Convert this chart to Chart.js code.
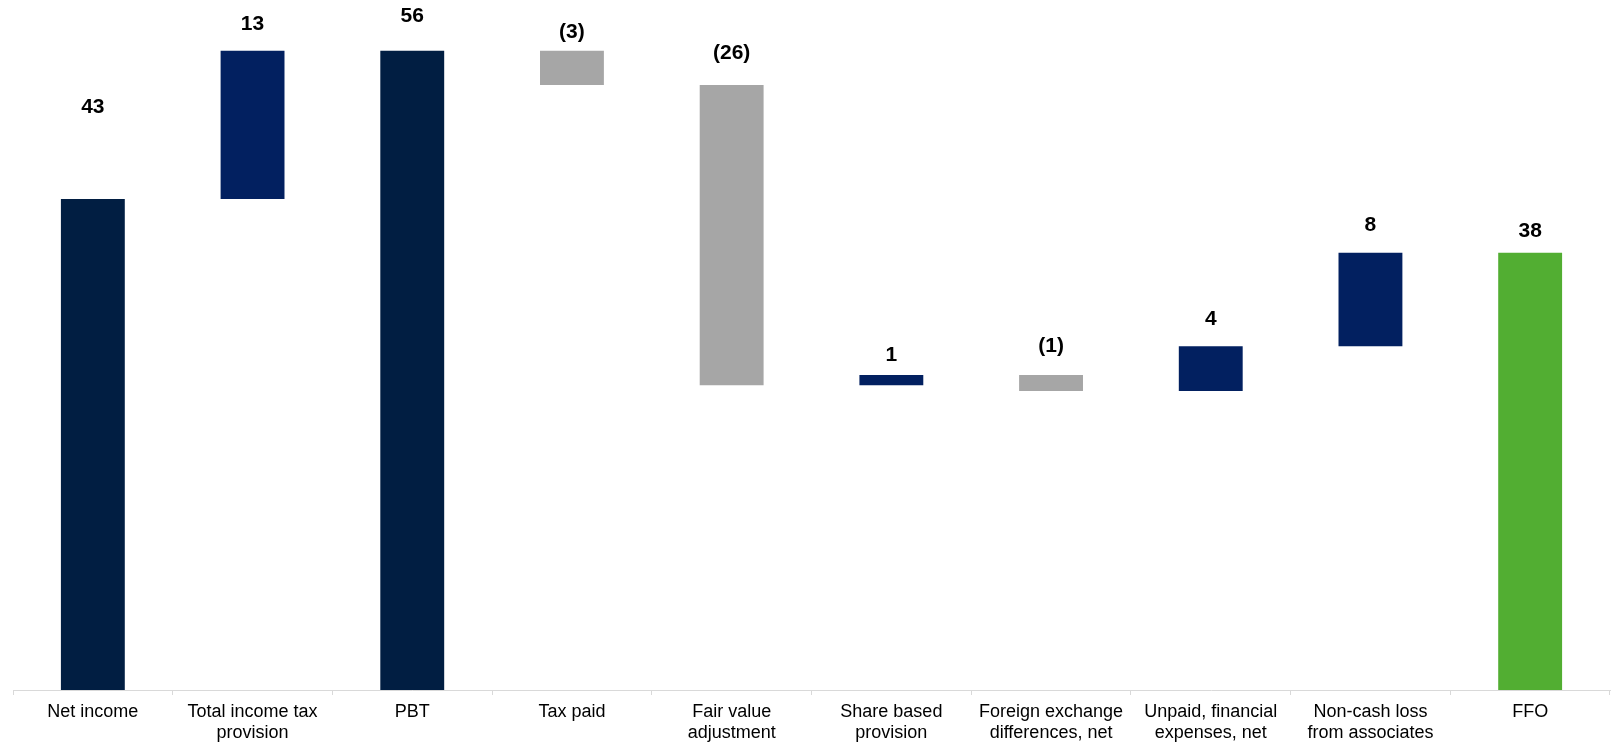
<!DOCTYPE html>
<html>
<head>
<meta charset="utf-8">
<script src="https://cdn.jsdelivr.net/npm/chart.js@4"></script>
<style>
  html, body { margin: 0; padding: 0; background: #ffffff; }
  #wrap { width: 1614px; height: 747px; position: relative; }
</style>
</head>
<body>
<div id="wrap"><canvas id="bridge"></canvas></div>
<script>
// Net income to FFO bridge (values in millions)
const categories = [
  ['Net income'],
  ['Total income tax', 'provision'],
  ['PBT'],
  ['Tax paid'],
  ['Fair value', 'adjustment'],
  ['Share based', 'provision'],
  ['Foreign exchange', 'differences, net'],
  ['Unpaid, financial', 'expenses, net'],
  ['Non-cash loss', 'from associates'],
  ['FFO']
];
const amounts = [43.0, 13.0, 56.0, -3.0, -26.3, 0.9, -1.4, 3.9, 8.2, 38.3];
const kinds = ['total', 'step', 'total', 'step', 'step', 'step', 'step', 'step', 'step', 'final'];

// Build floating [from, to] ranges: totals start at zero, steps start at the running sum
const ranges = [];
let running = 0;
amounts.forEach((v, i) => {
  if (kinds[i] === 'step') {
    ranges.push([running, running + v]);
    running += v;
  } else {
    ranges.push([0, v]);
    running = v;
  }
});

const colourFor = (v, i) => {
  if (kinds[i] === 'final') return '#52ae32';
  if (kinds[i] === 'total') return '#011e42';
  return v >= 0 ? '#022060' : '#a6a6a6';
};
const barColours = amounts.map(colourFor);

const formatValue = v => {
  const r = Math.round(Math.abs(v));
  return v < 0 ? '(' + r + ')' : String(r);
};

// Value labels above each bar; gap is the distance from bar top to label centre
const valueLabels = {
  id: 'valueLabels',
  afterDatasetsDraw(chart, args, opts) {
    const { ctx } = chart;
    const meta = chart.getDatasetMeta(0);
    ctx.save();
    ctx.font = 'bold 21px "Liberation Sans", Arial, sans-serif';
    ctx.fillStyle = '#000000';
    ctx.textAlign = 'center';
    ctx.textBaseline = 'middle';
    meta.data.forEach((bar, i) => {
      const top = Math.min(bar.y, bar.base);
      ctx.fillText(formatValue(amounts[i]), bar.x, top - opts.gaps[i]);
    });
    ctx.restore();
  }
};

new Chart(document.getElementById('bridge'), {
  type: 'bar',
  data: {
    labels: categories,
    datasets: [{
      data: ranges,
      backgroundColor: barColours,
      borderWidth: 0,
      borderSkipped: false,
      barPercentage: 0.4,
      categoryPercentage: 1.0
    }]
  },
  options: {
    responsive: true,
    maintainAspectRatio: false,
    animation: false,
    layout: { padding: { top: 5, left: 13, right: 4, bottom: 0 } },
    plugins: {
      legend: { display: false },
      tooltip: { enabled: false },
      valueLabels: { gaps: [92, 26, 34, 18, 32, 20, 29, 27, 28, 22] }
    },
    scales: {
      x: {
        offset: true,
        grid: {
          offset: true,
          drawOnChartArea: false,
          drawTicks: true,
          tickLength: 5,
          color: '#d9d9d9',
          lineWidth: 1
        },
        border: { display: true, color: '#d9d9d9', width: 1 },
        ticks: {
          autoSkip: false,
          maxRotation: 0,
          minRotation: 0,
          padding: 6,
          color: '#000000',
          font: { family: '"Liberation Sans", Arial, sans-serif', size: 18, lineHeight: 1.2 }
        },
        afterFit(scale) { scale.height = 57; }
      },
      y: {
        display: false,
        min: 0,
        max: 60
      }
    }
  },
  plugins: [valueLabels]
});
</script>
</body>
</html>
